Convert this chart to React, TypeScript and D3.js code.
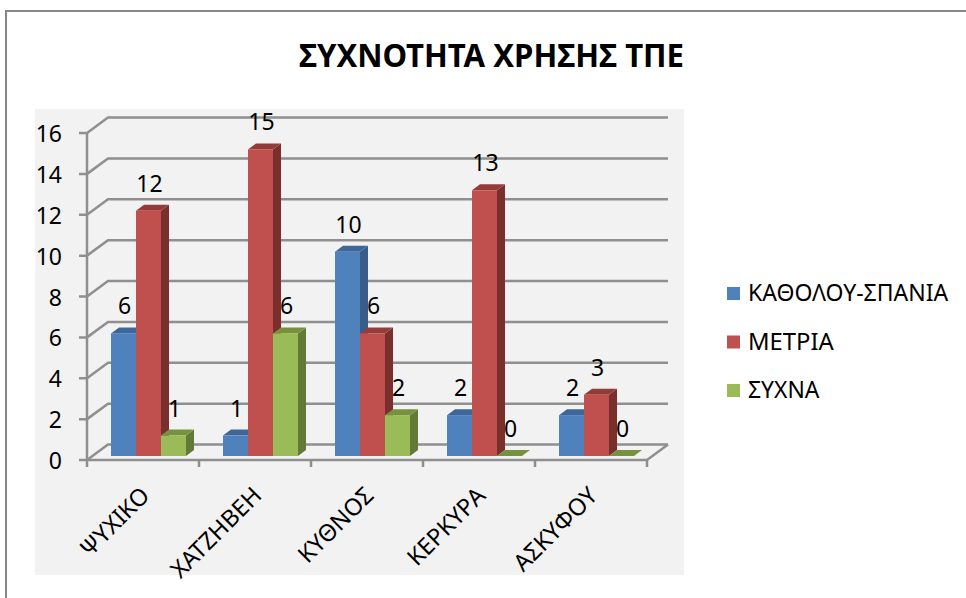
import React from "react";
import * as d3 from "d3";

const categories = ["ΨΥΧΙΚΟ", "ΧΑΤΖΗΒΕΗ", "ΚΥΘΝΟΣ", "ΚΕΡΚΥΡΑ", "ΑΣΚΥΦΟΥ"];
const seriesNames = ["ΚΑΘΟΛΟΥ-ΣΠΑΝΙΑ", "ΜΕΤΡΙΑ", "ΣΥΧΝΑ"];
const spania = [6, 1, 10, 2, 2];
const metria = [12, 15, 6, 13, 3];
const sychna = [1, 6, 2, 0, 0];
const yTicks = [0, 2, 4, 6, 8, 10, 12, 14, 16];

const seriesValues = [spania, metria, sychna];
const front = ["#4f81bd", "#c0504d", "#9bbb59"];
const top = ["#3d6798", "#953b39", "#76923f"];
const side = ["#385d8a", "#7b2f2d", "#617a35"];

const FONT = "'Noto Sans', sans-serif";
const GRID = "#8f8f8f";

// floor/wall offset of the fake 3D box, and the depth of each bar
const wallDx = 21;
const wallDy = 15.5;
const barDx = 8;
const barDy = 6;

const x0 = d3.scaleBand().domain(categories).range([87, 647]);
const xs = d3.scaleBand().domain(seriesNames).range([24, 99]);
const y = d3.scaleLinear().domain([0, 16]).range([460, 133]);
const barBase = 456;
const barH = (v) => y(0) - y(v);

const poly = (pts) => {
  const p = d3.path();
  pts.forEach(([a, b], i) => (i ? p.lineTo(a, b) : p.moveTo(a, b)));
  p.closePath();
  return p.toString();
};

export default function App() {
  const bw = xs.bandwidth();
  return (
    <svg
      width={966}
      height={598}
      style={{ position: "absolute", left: 0, top: 0, background: "#fff" }}
    >
      <path d="M6,598V11H966" fill="none" stroke="#878787" strokeWidth={2} />
      <text
        x={491.5}
        y={67}
        textAnchor="middle"
        fontFamily={FONT}
        fontWeight="bold"
        fontSize={32}
        textLength={385}
        lengthAdjust="spacingAndGlyphs"
        fill="#000"
      >
        ΣΥΧΝΟΤΗΤΑ ΧΡΗΣΗΣ ΤΠΕ
      </text>

      <rect x={35} y={109} width={649} height={466} fill="#f2f2f2" />

      {/* walls */}
      <g stroke={GRID} strokeWidth={2.5} fill="none">
        {yTicks.map((t) => (
          <path
            key={t}
            d={`M79,${y(t)}H87L${87 + wallDx},${y(t) - wallDy}H${647 + wallDx}`}
          />
        ))}
        <path d={`M87,${y(16)}V${y(0) + 7}`} />
        <path d={`M87,${y(0)}H647L${647 + wallDx},${y(0) - wallDy}`} />
        {categories.map((c) => (
          <path key={c} d={`M${x0(c) + x0.bandwidth()},${y(0)}v7`} />
        ))}
      </g>

      {/* bars */}
      {categories.map((c, ci) => (
        <g key={c} transform={`translate(${x0(c)},0)`}>
          {seriesNames.map((s, si) => {
            const v = seriesValues[si][ci];
            const l = xs(s);
            const t = barBase - barH(v);
            return (
              <g key={s}>
                <path
                  d={poly([
                    [l + bw, t],
                    [l + bw + barDx, t - barDy],
                    [l + bw + barDx, barBase - barDy],
                    [l + bw, barBase],
                  ])}
                  fill={side[si]}
                />
                <path
                  d={poly([
                    [l, t],
                    [l + barDx, t - barDy],
                    [l + bw + barDx, t - barDy],
                    [l + bw, t],
                  ])}
                  fill={top[si]}
                />
                <rect x={l} y={t} width={bw} height={barH(v)} fill={front[si]} />
              </g>
            );
          })}
        </g>
      ))}

      {/* value labels */}
      <g fontFamily={FONT} fontSize={23} textAnchor="middle" fill="#000">
        {categories.map((c, ci) =>
          seriesNames.map((s, si) => {
            const v = seriesValues[si][ci];
            return (
              <text
                key={s}
                x={x0(c) + xs(s) + bw / 2 + 1}
                y={barBase - barH(v) - 19}
              >
                {v}
              </text>
            );
          })
        )}
      </g>

      {/* y axis labels */}
      <g fontFamily={FONT} fontSize={23} textAnchor="end" fill="#000">
        {yTicks.map((t) => (
          <text key={t} x={62} y={y(t) + 9}>
            {t}
          </text>
        ))}
      </g>

      {/* category labels */}
      <g fontFamily={FONT} fontSize={23.5} textAnchor="end" fill="#000">
        {categories.map((c) => (
          <text
            key={c}
            transform={`translate(${x0(c) + 64},497) rotate(-45)`}
          >
            {c}
          </text>
        ))}
      </g>

      {/* legend */}
      {seriesNames.map((s, i) => (
        <g key={s} transform={`translate(727,${294 + i * 48.5})`}>
          <rect y={-7} width={13} height={13} fill={front[i]} />
          <text
            x={21}
            y={7}
            fontFamily={FONT}
            fontSize={23}
            textLength={s.length * 14.3}
            lengthAdjust="spacingAndGlyphs"
            fill="#000"
          >
            {s}
          </text>
        </g>
      ))}
    </svg>
  );
}
